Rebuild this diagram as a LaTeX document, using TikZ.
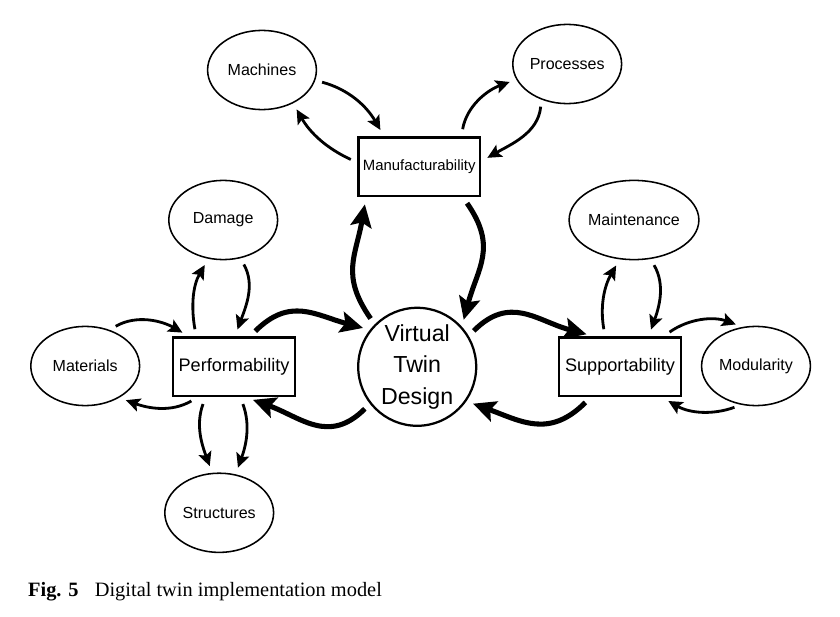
\documentclass[tikz,border=0pt]{standalone}
\usepackage{fontspec}
\setmainfont{Liberation Serif}
\setsansfont{Liberation Sans}
\usetikzlibrary{arrows.meta, shapes.geometric}

\begin{document}
\begin{tikzpicture}[
    aspect/.style={draw, ellipse, line width=1.1pt, minimum width=2.72cm, minimum height=1.98cm, inner sep=0pt, font=\sffamily\fontsize{11.4}{13}\selectfont},
    area/.style={draw, rectangle, line width=1.8pt, minimum width=3.04cm, minimum height=1.47cm, inner sep=0pt, font=\sffamily\fontsize{12.9}{15}\selectfont},
    link/.style={line width=2pt, -{Stealth[length=10pt, width=9.5pt, inset=2pt]}, shorten <=5pt, shorten >=5pt},
    mainlink/.style={line width=3.6pt, -{Stealth[length=16pt, width=15pt, inset=3pt]}, shorten <=5pt, shorten >=5pt, looseness=1.2}
]
    \useasboundingbox (0, 0) rectangle (21, 15.4);

    % Centre
    \node[draw, circle, line width=1.6pt, minimum size=2.95cm, inner sep=0pt, align=center,
          font=\sffamily\fontsize{16.5}{22.5}\selectfont] (vtd) at (10.43, 6.23) {Virtual\\Twin\\Design};

    % Three areas
    \node[area, font=\sffamily\fontsize{10.6}{13}\selectfont] (manu) at (10.48, 11.23) {Manufacturability};
    \node[area] (perf) at (5.85, 6.23) {Performability};
    \node[area] (supp) at (15.5, 6.23) {Supportability};

    % Aspects
    \node[aspect] (mach) at (6.55, 13.65) {Machines};
    \node[aspect] (proc) at (14.18, 13.8) {Processes};
    \node[aspect] (dam) at (5.58, 9.9) {Damage};
    \node[aspect] (mat) at (2.13, 6.25) {Materials};
    \node[aspect] (str) at (5.48, 2.58) {Structures};
    \node[aspect] (mnt) at (15.85, 9.9) {Maintenance};
    \node[aspect] (mod) at (18.9, 6.25) {Modularity};

    % Virtual twin design <-> areas
    \draw[mainlink] (vtd.135) to[out=125, in=-100] (manu.-150);
    \draw[mainlink] (manu.-35) to[out=-55, in=75] (vtd.42);
    \draw[mainlink] (perf.62) to[out=45, in=165] (vtd.142);
    \draw[mainlink] (vtd.-142) to[out=-135, in=-20] (perf.-68);
    \draw[mainlink] (vtd.31) to[out=45, in=165] (supp.131);
    \draw[mainlink] (supp.-134) to[out=-135, in=-20] (vtd.-35);

    % Manufacturability loops
    \draw[link] (mach.-11) to[out=-15, in=120] (manu.139);
    \draw[link] (manu.176) to[out=155, in=-60] (mach.-47);
    \draw[link] (manu.36) to[out=80, in=-160] (proc.197);
    \draw[link] (proc.-126) to[out=-95, in=30] (manu.5);

    % Performability loops
    \draw[link] (perf.141) to[out=100, in=-120] (dam.-111);
    \draw[link] (dam.-66) to[out=-60, in=70] (perf.88);
    \draw[link] (mat.56) to[out=30, in=150] (perf.146);
    \draw[link] (perf.-140) to[out=-150, in=-20] (mat.-43);
    \draw[link] (perf.-133) to[out=-110, in=110] (str.100);
    \draw[link] (perf.-78) to[out=-70, in=70] (str.67);

    % Supportability loops
    \draw[link] (supp.116) to[out=100, in=-120] (mnt.-110);
    \draw[link] (mnt.-67) to[out=-60, in=70] (supp.47);
    \draw[link] (supp.35) to[out=35, in=160] (mod.109);
    \draw[link] (mod.-111) to[out=-160, in=-30] (supp.-36);

    % Caption
    \node[anchor=base west, font=\fontsize{14.5}{17}\selectfont] (caption) at (0.58, 0.5)
        {\textbf{Fig. 5}\hspace{0.8em}Digital twin implementation model};
\end{tikzpicture}
\end{document}
